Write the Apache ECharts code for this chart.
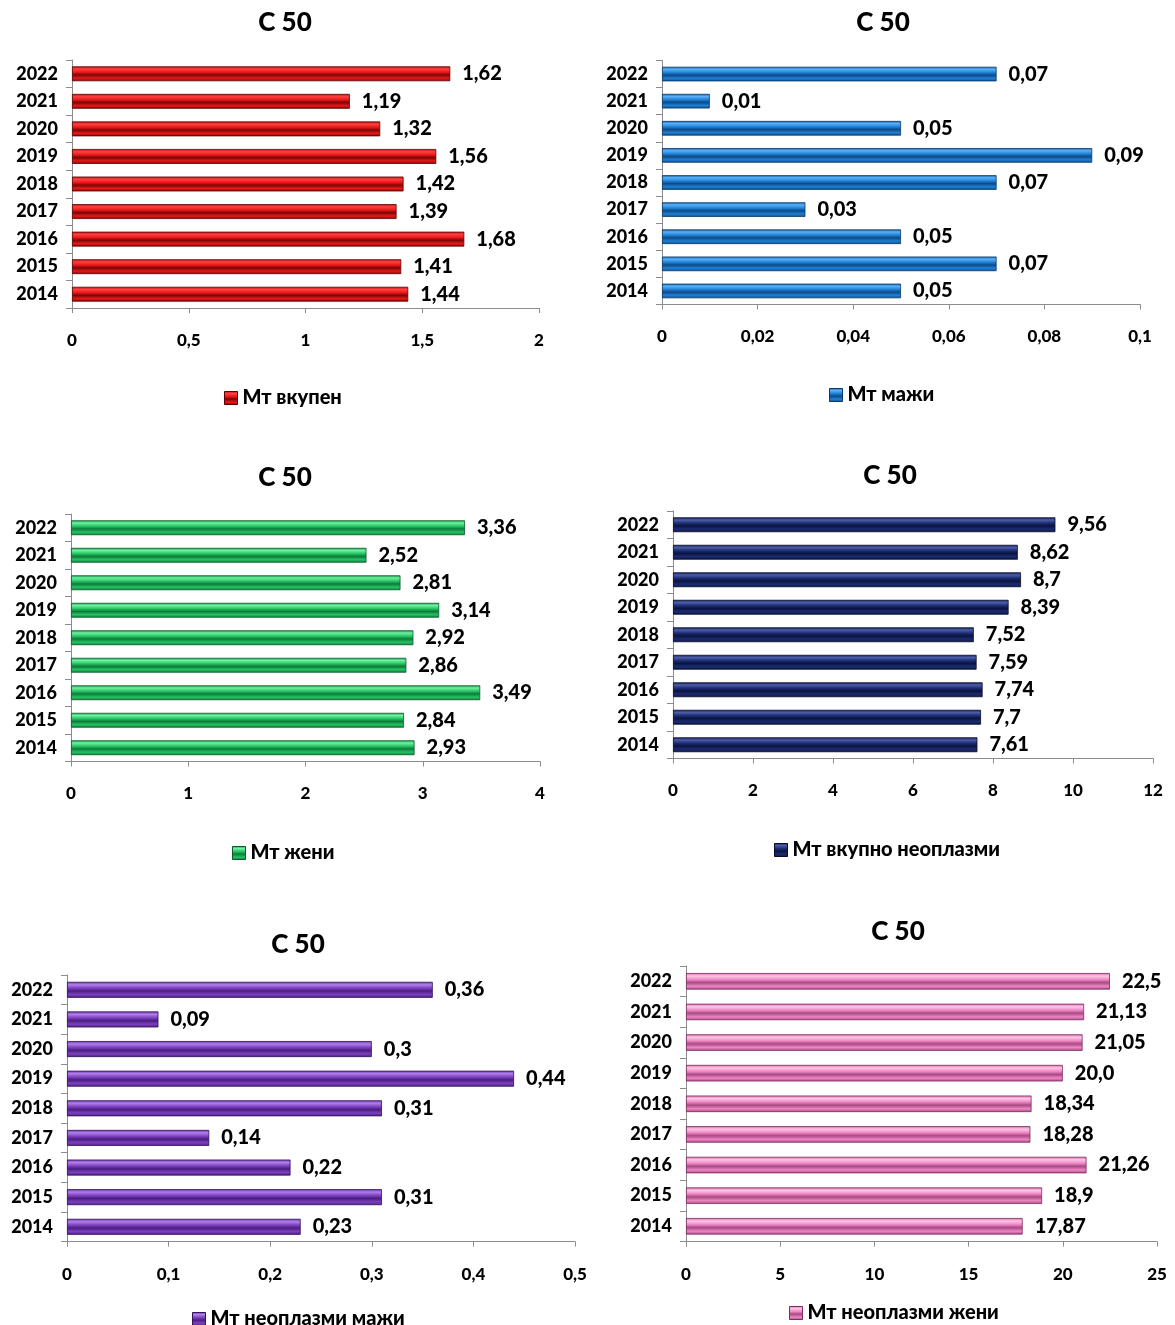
<!DOCTYPE html>
<html><head><meta charset="utf-8">
<script src="https://cdn.jsdelivr.net/npm/echarts@6/dist/echarts.min.js"></script>
<style>html,body{margin:0;padding:0;background:#fff}#c{width:1175px;height:1325px}</style>
</head><body><div id="c"></div>
<script>
const years = ['2014','2015','2016','2017','2018','2019','2020','2021','2022'];
const title = 'С 50';
const mtVkupen = [1.44, 1.41, 1.68, 1.39, 1.42, 1.56, 1.32, 1.19, 1.62];
const mtMazhi = [0.05, 0.07, 0.05, 0.03, 0.07, 0.09, 0.05, 0.01, 0.07];
const mtZheni = [2.93, 2.84, 3.49, 2.86, 2.92, 3.14, 2.81, 2.52, 3.36];
const mtNeoVkupno = [7.61, 7.7, 7.74, 7.59, 7.52, 8.39, 8.7, 8.62, 9.56];
const mtNeoMazhi = [0.23, 0.31, 0.22, 0.14, 0.31, 0.44, 0.3, 0.09, 0.36];
const mtNeoZheni = [17.87, 18.9, 21.26, 18.28, 18.34, 20.0, 21.05, 21.13, 22.5];
const seriesNames = ['Мт вкупен','Мт мажи','Мт жени','Мт вкупно неоплазми','Мт неоплазми мажи','Мт неоплазми жени'];
const axisMax = [2, 0.1, 4, 12, 0.5, 25];
const axisStep = [0.5, 0.02, 1, 2, 0.1, 5];
const allData = [mtVkupen, mtMazhi, mtZheni, mtNeoVkupno, mtNeoMazhi, mtNeoZheni];

// layout + colours [edge, highlight, base, dark, border]
const panels = [
  {left:72, width:467, top:60, height:248, tx:280, ty:5, lx:219, ly:383, c:['#c01010','#ff4040','#e81818','#7a0606','#600000']},
  {left:662, width:478, top:60.5, height:244, tx:878, ty:5, lx:824, ly:380, c:['#1565b0','#5ab0f5','#1f80d6','#0c4a85','#0a3a6a']},
  {left:71, width:469, top:514, height:247.5, tx:280, ty:460, lx:227, ly:838, c:['#18a050','#70f0a0','#24c462','#0e7a3a','#0a5a2a']},
  {left:673, width:480, top:511, height:247.5, tx:885, ty:458, lx:769, ly:835, c:['#121f58','#4c5ea8','#1c2c72','#0a1440','#060c28']},
  {left:67, width:508, top:975, height:266.6, tx:293, ty:927, lx:187, ly:1304, c:['#6a30a8','#b080ea','#7d40c0','#4a1e80','#321258']},
  {left:686, width:471, top:966, height:275.6, tx:893, ty:914, lx:784, ly:1298, c:['#d862a8','#ffc6e6','#ee86c4','#a84a84','#7a2e5e']}
];
const FONT = 'Lato';
const W = 900;
const fmt = (v, i) => {
  let s = String(v);
  if (i === 5 && Number.isInteger(v)) s = v + '.0';
  return s.replace('.', ',');
};
const option = {
  animation: false,
  backgroundColor: '#fff',
  textStyle: {fontFamily: FONT},
  title: [], grid: [], xAxis: [], yAxis: [], series: [], legend: []
};
panels.forEach((p, i) => {
  const grad = new echarts.graphic.LinearGradient(0,0,0,1,[
    {offset:0, color:p.c[0]},{offset:0.18, color:p.c[1]},{offset:0.4, color:p.c[2]},
    {offset:0.58, color:p.c[3]},{offset:0.8, color:p.c[2]},{offset:1, color:p.c[3]}]);
  option.title.push({text:title, left:p.tx, top:p.ty, textAlign:'center',
    textStyle:{fontFamily:FONT, fontWeight:W, fontSize:26, color:'#000'}});
  option.grid.push({left:p.left, width:p.width, top:p.top, height:p.height, containLabel:false});
  option.xAxis.push({type:'value', gridIndex:i, min:0, max:axisMax[i], interval:axisStep[i],
    axisLine:{show:true, lineStyle:{color:'#8c8c8c'}}, axisTick:{show:true, length:5, lineStyle:{color:'#8c8c8c'}},
    splitLine:{show:false},
    axisLabel:{margin:24, fontFamily:FONT, fontWeight:W, fontSize:17, color:'#000',
      formatter:v => String(+v.toFixed(4)).replace('.', ',')}});
  option.yAxis.push({type:'category', gridIndex:i, data:years,
    axisLine:{show:true, lineStyle:{color:'#8c8c8c'}}, axisTick:{show:true, length:6, inside:false, lineStyle:{color:'#8c8c8c'}},
    axisLabel:{margin:14, fontFamily:FONT, fontWeight:W, fontSize:18, color:'#000'}});
  option.series.push({type:'bar', name:seriesNames[i], xAxisIndex:i, yAxisIndex:i, data:allData[i],
    barWidth:'54%',
    itemStyle:{color:grad, borderColor:p.c[4], borderWidth:0.8},
    label:{show:true, position:'right', distance:12, fontFamily:FONT, fontWeight:W, fontSize:20, color:'#000',
      formatter:pr => fmt(pr.value, i)}});
  option.legend.push({data:[{name:seriesNames[i], icon:'rect', itemStyle:{color:grad, borderColor:p.c[4], borderWidth:1}}],
    left:p.lx, top:p.ly, itemWidth:13, itemHeight:13, itemGap:6, selectedMode:false,
    textStyle:{fontFamily:FONT, fontWeight:W, fontSize:20, color:'#000'}});
});
const chart = echarts.init(document.getElementById('c'), null, {renderer:'canvas'});
chart.setOption(option);
</script></body></html>
